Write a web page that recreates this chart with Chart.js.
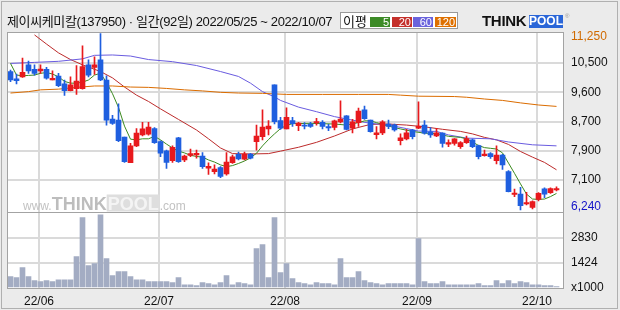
<!DOCTYPE html>
<html><head><meta charset="utf-8">
<script src="https://cdn.jsdelivr.net/npm/chart.js@4/dist/chart.umd.min.js"></script>
<style>
html,body{margin:0;padding:0;background:#ebebeb;}
#wrap{position:relative;width:620px;height:310px;overflow:hidden;background:#ebebeb;}
#frame{position:absolute;left:1px;top:1px;width:615px;height:306px;border:1px solid #b0b0b0;box-sizing:content-box;}
#c{position:absolute;left:0;top:0;}
#title{position:absolute;left:7px;top:14px;font:13px 'Liberation Sans','Noto Sans CJK KR',sans-serif;color:#111;white-space:nowrap;line-height:16px;letter-spacing:-0.37px;}
#legend{position:absolute;left:340px;top:12px;width:116px;height:15px;border:1px solid #9a9a9a;background:#fff;}
#legend .lb{position:absolute;left:2px;top:0px;font:13px 'Noto Sans CJK KR',sans-serif;color:#111;line-height:15px;}
#legend .bx{position:absolute;top:4px;height:10px;color:#fff;font:11px 'Liberation Sans',sans-serif;line-height:10px;text-align:right;box-sizing:border-box;padding-right:1px;}
#logo{position:absolute;left:482px;top:13px;height:16px;white-space:nowrap;}
#logo .t{position:absolute;left:0;top:0;font:bold 15px 'Liberation Sans',sans-serif;color:#111;line-height:16px;letter-spacing:-0.3px;}
#logo .p{position:absolute;left:47px;top:2px;width:34px;height:13px;background:#2a66d8;color:#fff;font:bold 12px 'Liberation Sans',sans-serif;line-height:13px;text-align:center;}
#logo .r{position:absolute;left:83px;top:0px;font:6px 'Liberation Sans',sans-serif;color:#999;}
</style></head>
<body>
<div id="wrap">
<canvas id="c" width="620" height="310"></canvas>
<div id="frame"></div>
<div id="title"></div>
<div id="legend"></div>
<div id="logo"><span class="t">THINK</span><span class="p">POOL</span><span class="r">®</span></div>
</div>
<script>
// ---------- data (prices in KRW, volume in thousand shares) ----------
const titleText = '제이씨케미칼(137950) · 일간(92일) 2022/05/25 ~ 2022/10/07';
const openP  = [10170,9960,10020,10360,10230,10190,10230,9930,10040,9820,9630,9680,9680,10360,10290,10500,9930,8820,8790,8310,7580,8060,8370,8390,8550,8180,7920,7640,8290,7660,7790,7800,7770,7430,7330,7440,7260,7580,7820,7680,7830,8180,8320,8540,9790,8780,8540,8780,8630,8650,8680,8710,8730,8610,8580,8740,8910,8560,8720,9080,8790,8380,8430,8680,8660,8210,8260,8510,8560,8650,8460,8340,8420,8110,8130,8040,8150,8230,8070,7780,7840,7640,7800,7330,6680,6690,6410,6310,6540,6840,6730,6810];
const highP  = [10210,10100,10550,10470,10360,10360,10290,10190,10120,9930,10020,10340,10900,10500,10590,11250,10050,8930,9250,8310,8130,8550,8730,8730,8580,8200,7940,8060,8300,7800,7970,7940,7870,7580,7520,7470,7870,7800,7880,7880,7850,8650,9080,8780,9790,8870,9140,8870,8730,8720,8730,8840,8780,8670,8790,9340,8920,8810,9130,9190,8790,8610,8780,8790,8680,8400,8530,8530,9310,8780,8580,8560,8430,8230,8270,8180,8340,8250,8080,7940,7870,8060,7820,7360,6830,6880,6740,6500,6730,6870,6870,6900];
const lowP   = [9880,9820,10000,10120,10070,10120,9950,9930,9740,9490,9620,9520,9670,10020,10090,9910,8650,8670,8180,7590,7580,8040,8340,8360,8130,7750,7420,7590,7590,7610,7750,7710,7420,7250,7260,7160,7230,7560,7660,7660,7690,7940,8230,8370,8680,8530,8540,8610,8490,8540,8580,8650,8540,8490,8510,8710,8510,8430,8610,8810,8450,8260,8380,8550,8480,8090,8230,8260,8550,8390,8300,8320,8020,8040,8080,7990,8130,8010,7690,7770,7700,7550,7390,6750,6620,6240,6380,6270,6500,6590,6710,6780];
const closeP = [9930,9910,10150,10190,10120,10240,9980,9980,9770,9630,9790,9900,10310,10070,10360,9930,8790,8700,8210,7610,8060,8420,8540,8590,8150,7850,7590,8020,7610,7770,7840,7850,7470,7480,7400,7190,7600,7750,7690,7830,7710,8340,8590,8620,8750,8560,8870,8690,8710,8620,8610,8750,8610,8570,8770,8820,8530,8740,9050,8830,8460,8430,8740,8610,8510,8290,8430,8320,8620,8420,8370,8430,8130,8150,8260,8150,8270,8040,7750,7830,7750,7800,7520,6760,6720,6360,6450,6480,6710,6690,6850,6850];
const volumeK = [635,579,1141,635,410,354,410,354,466,466,466,1759,3951,1253,1366,4119,1647,691,916,916,635,466,466,354,354,354,354,298,579,185,185,129,298,242,185,298,691,185,298,242,185,2209,2434,579,3951,860,1366,523,298,242,185,298,242,242,185,1647,579,579,916,410,298,242,185,242,242,242,242,185,2771,354,242,242,354,185,185,185,185,185,242,129,129,410,242,410,242,354,298,185,185,129,129,73];

// moving averages (day index -> value)
const ma5Idx = [0,1,2,3,4,5,6,7,8,9,10,11,12,13,14,15,16,17,18,19,20,21,22,23,24,25,26,27,28,29,30,31,32,33,34,35,36,37,38,39,40,41,42,43,44,45,46,47,50,54,56,58,59,60,61,63,65,67,69,71,72,73,75,76,77,78,79,80,81,82,83,84,85,86,87,88,89,90,91];
const ma5Val = [10400,10070,10050,10060,10070,10120,10140,10100,10020,9890,9840,9840,9870,9930,10070,10120,9860,9540,9150,8620,8250,8230,8260,8260,8330,8230,8110,8000,7910,7860,7790,7760,7740,7660,7600,7520,7470,7500,7560,7630,7720,7850,8060,8240,8400,8550,8640,8690,8700,8680,8650,8720,8770,8770,8720,8620,8540,8470,8420,8410,8370,8330,8300,8260,8170,8070,8010,7990,7970,7860,7570,7280,6980,6690,6550,6540,6550,6620,6710];
const ma20Idx = [4,6,8,10,12,15,17,19,21,23,25,28,31,33,35,37,40,43,45,48,51,54,57,60,63,66,69,72,75,77,79,81,83,85,87,89,91];
const ma20Val = [11210,10950,10700,10510,10360,10170,9990,9730,9500,9320,9110,8810,8510,8260,8000,7840,7830,7840,7910,8020,8160,8340,8540,8670,8680,8650,8600,8530,8470,8400,8300,8230,8100,7900,7740,7590,7380];
const ma60Idx = [0,4,8,12,14,17,20,23,27,31,35,38,40,42,44,45,48,51,54,57,60,63,66,68,71,73,76,80,83,87,91];
const ma60Val = [10400,10430,10460,10530,10630,10640,10610,10510,10450,10340,10170,10030,9840,9600,9450,9350,9160,9030,8890,8790,8700,8650,8550,8480,8470,8370,8280,8260,8170,8090,8060];
const ma120Idx = [0,3,5,8,11,14,17,20,23,26,29,32,35,38,42,46,52,58,63,65,68,74,76,79,82,85,88,91];
const ma120Val = [9560,9600,9650,9670,9720,9760,9760,9730,9720,9690,9650,9620,9580,9560,9550,9520,9520,9520,9520,9500,9470,9460,9440,9390,9350,9280,9220,9180];

// axes
const monthIdx = [5,25,46,68,88];
const monthLabels = ['22/06','22/07','22/08','22/09','22/10'];
const priceGridTicks = [10410,9580,8740,7910,7090];          // gridline levels
const priceGridLabels = ['10,500','9,600','8,700','7,900','7,100'];
const priceMaxLabel = [11250,'11,250'];
const priceMinLabel = [6240,'6,240'];
const volTicks = [0,1424,2830];
const volLabels = ['x1000','1424','2830'];
const maNames = ['5','20','60','120'];

// ---------- styles ----------
const UP = '#e8191d', DOWN = '#1f5fdf';
const MA_COLORS = ['#3b8a1f','#bd2b2b','#6a5ce0','#db6c00'];
const LEG_COLORS = ['#3d8b27','#c4302b','#6a63dc','#de7000'];
const GRID = '#dadada';
const FONT = "'Liberation Sans', Arial, sans-serif";

document.getElementById('title').textContent = titleText;
const leg = document.getElementById('legend');
const lb = document.createElement('span'); lb.className='lb'; lb.textContent='이평'; leg.appendChild(lb);
const boxX = [29,51,72,94], boxW = [20,20,20,21];
maNames.forEach((n,k)=>{const b=document.createElement('span');b.className='bx';b.style.left=boxX[k]+'px';b.style.width=boxW[k]+'px';b.style.background=LEG_COLORS[k];b.textContent=n;leg.appendChild(b);});

const days = openP.map((_,i)=>i);
const isUp = i => closeP[i] >= openP[i];
const candleColors = days.map(i => isUp(i) ? UP : DOWN);
const pts = (ix, v) => ix.map((x,k)=>({x, y:v[k]}));

const PMAX = 11264, PMIN = 6168;
const PPX = (PMAX - PMIN) / 179.5;
const VMAX = 4243;
// extreme-price labels are kept inside the panel
const maxLabelPos = Math.min(priceMaxLabel[0], PMAX - 4*PPX);
const minLabelPos = Math.max(priceMinLabel[0], PMIN + 5.5*PPX);

const bgPlugin = {
  id:'bg',
  beforeDraw(chart){
    const {ctx, chartArea:a} = chart;
    ctx.save(); ctx.fillStyle='#fff'; ctx.fillRect(a.left, a.top, a.right-a.left, a.bottom-a.top); ctx.restore();
  },
  beforeDatasetsDraw(chart){
    const {ctx, chartArea:a} = chart;
    const yb = chart.scales.y.bottom - 3;
    ctx.save();
    ctx.textBaseline='alphabetic';
    let x = a.left + 15;
    ctx.font = "12px "+FONT; ctx.fillStyle='#c2c2c2'; ctx.fillText('www.', x, yb); x += ctx.measureText('www.').width;
    ctx.font = "bold 18px "+FONT; ctx.fillStyle='#bdbdbd'; ctx.fillText('THINK', x, yb); x += ctx.measureText('THINK').width;
    const pw = ctx.measureText('POOL').width;
    ctx.fillStyle='#dedede'; ctx.fillRect(x, yb-15, pw+2, 17);
    ctx.fillStyle='#f4f4f4'; ctx.fillText('POOL', x+1, yb); x += pw+2;
    ctx.font = "12px "+FONT; ctx.fillStyle='#c2c2c2'; ctx.fillText('.com', x, yb);
    ctx.restore();
  },
  afterDraw(chart){
    const {ctx, chartArea:a} = chart;
    ctx.save();
    ctx.strokeStyle='#a3a3a3'; ctx.lineWidth=1;
    ctx.strokeRect(a.left-0.5, a.top-0.5, a.right-a.left+1, a.bottom-a.top+1);
    const sy = Math.round(chart.scales.y.bottom)-0.5;
    ctx.beginPath(); ctx.moveTo(a.left, sy); ctx.lineTo(a.right, sy); ctx.stroke();
    ctx.restore();
  }
};

const priceTickVals = [maxLabelPos, ...priceGridTicks, minLabelPos];
function priceLabel(v){
  if (v === maxLabelPos) return priceMaxLabel[1];
  if (v === minLabelPos) return priceMinLabel[1];
  const k = priceGridTicks.indexOf(v); return k>=0 ? priceGridLabels[k] : '';
}

new Chart(document.getElementById('c'), {
  type:'bar',
  data:{
    datasets:[
      {type:'line', data:pts(ma120Idx,ma120Val), borderColor:MA_COLORS[3], borderWidth:1, pointRadius:0, yAxisID:'y', order:6},
      {type:'line', data:pts(ma60Idx,ma60Val), borderColor:MA_COLORS[2], borderWidth:1, pointRadius:0, yAxisID:'y', order:6},
      {type:'line', data:pts(ma20Idx,ma20Val), borderColor:MA_COLORS[1], borderWidth:1, pointRadius:0, yAxisID:'y', order:6},
      {type:'line', data:pts(ma5Idx,ma5Val), borderColor:MA_COLORS[0], borderWidth:1, pointRadius:0, yAxisID:'y', order:5},
      {data:days.map(i=>({x:i, y:volumeK[i]})), backgroundColor:'#a3acc3', barThickness:5, grouped:false, yAxisID:'yv', order:4, borderWidth:0},
      {data:days.map(i=>({x:i, y:[lowP[i], highP[i]]})), backgroundColor:candleColors, barThickness:1, grouped:false, yAxisID:'y', order:2, minBarLength:1, borderWidth:0},
      {data:days.map(i=>({x:i, y:[openP[i], closeP[i]]})), backgroundColor:candleColors, barThickness:5, grouped:false, yAxisID:'y', order:1, minBarLength:1, borderWidth:0}
    ]
  },
  options:{
    responsive:false, animation:false, devicePixelRatio:1,
    layout:{padding:{left:8, top:33, right:0, bottom:0}},
    plugins:{legend:{display:false}, tooltip:{enabled:false}},
    scales:{
      x:{type:'linear', min:-0.4167, max:92.083, offset:false,
        grid:{offset:false, color:GRID, lineWidth:2, drawTicks:false}, border:{display:false},
        afterBuildTicks:s=>{ s.ticks = monthIdx.map(m=>({value:m-0.25})); },
        afterFit:s=>{ s.height = 22; },
        ticks:{autoSkip:false, maxRotation:0, padding:6, color:'#111', font:{family:FONT, size:12},
          callback:(v,i)=>monthLabels[i]}
      },
      y:{type:'linear', position:'right', stack:'panels', stackWeight:179.5, min:PMIN, max:PMAX,
        grid:{color:c=> (c.tick && priceGridTicks.includes(c.tick.value)) ? GRID : 'rgba(0,0,0,0)', lineWidth:2, drawTicks:false},
        border:{display:false},
        afterBuildTicks:s=>{ s.ticks = priceTickVals.map(v=>({value:v})); },
        afterFit:s=>{ s.width = 57; },
        ticks:{autoSkip:false, padding:8, font:{family:FONT, size:12},
          color:c=> c.tick.value===maxLabelPos ? '#d06a00' : (c.tick.value===minLabelPos ? '#1414c8' : '#111'),
          callback:v=>priceLabel(v)}
      },
      yv:{type:'linear', position:'right', stack:'panels', stackWeight:75.5, min:0, max:VMAX,
        grid:{color:c=> (c.tick && c.tick.value>0) ? GRID : 'rgba(0,0,0,0)', lineWidth:2, drawTicks:false},
        border:{display:false},
        afterBuildTicks:s=>{ s.ticks = volTicks.map(v=>({value:v})); },
        afterFit:s=>{ s.width = 57; },
        ticks:{autoSkip:false, padding:8, color:'#111', font:{family:FONT, size:12},
          callback:v=>volLabels[volTicks.indexOf(v)]}
      }
    }
  },
  plugins:[bgPlugin]
});
</script>
</body></html>
